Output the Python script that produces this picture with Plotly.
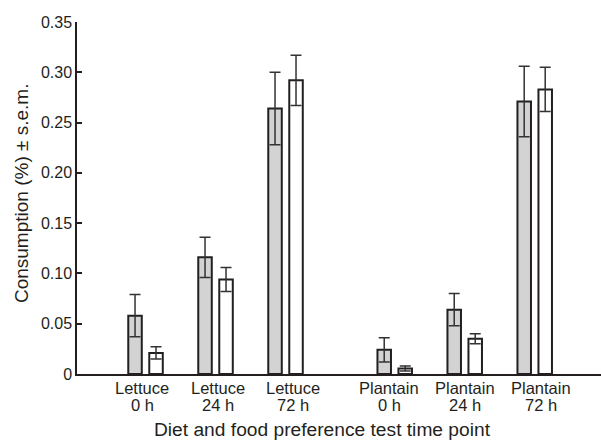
import plotly.graph_objects as go

diets = ["Lettuce", "Lettuce", "Lettuce", "Plantain", "Plantain", "Plantain"]
times = ["0 h", "24 h", "72 h", "0 h", "24 h", "72 h"]
grey_values = [0.058, 0.116, 0.264, 0.024, 0.064, 0.271]
grey_err = [0.021, 0.020, 0.036, 0.012, 0.016, 0.035]
white_values = [0.021, 0.094, 0.292, 0.0055, 0.035, 0.283]
white_err = [0.006, 0.012, 0.025, 0.0025, 0.005, 0.022]
y_ticks = [0, 0.05, 0.10, 0.15, 0.20, 0.25, 0.30, 0.35]
y_ticktext = ["0", "0.05", "0.10", "0.15", "0.20", "0.25", "0.30", "0.35"]

# group positions: two clusters of three, with a wider gap between diets
centers = [0, 1, 2, 3.56, 4.56, 5.56]
label_pos = [-0.05, 1.03, 2.10, 3.48, 4.56, 5.65]
offset = 0.15
bw = 0.193

dark = "#231f20"
FAM = "Liberation Sans, Arial, Helvetica, sans-serif"
font = dict(family=FAM, size=16, color="#231f20")

fig = go.Figure()
fig.add_trace(go.Bar(
    x=[c - offset for c in centers], y=grey_values, width=bw,
    marker=dict(color="#d3d3d3", line=dict(color=dark, width=2)),
    error_y=dict(type="data", array=grey_err, symmetric=True,
                 color="#333333", thickness=1.5, width=5.5),
    showlegend=False))
fig.add_trace(go.Bar(
    x=[c + offset for c in centers], y=white_values, width=bw,
    marker=dict(color="white", line=dict(color=dark, width=2)),
    error_y=dict(type="data", array=white_err, symmetric=True,
                 color="#333333", thickness=1.5, width=5.5),
    showlegend=False))

plot_h = 442 - 22 - 68
annotations = []
for xp, d, t in zip(label_pos, diets, times):
    annotations.append(dict(x=xp, y=(374 - 387.5) / plot_h, xref="x", yref="paper",
                            text=d, showarrow=False, xanchor="center", yanchor="middle",
                            font=dict(family=FAM, size=16.5, color=dark)))
    annotations.append(dict(x=xp, y=(374 - 404.8) / plot_h, xref="x", yref="paper",
                            text=t, showarrow=False, xanchor="center", yanchor="middle",
                            font=dict(family=FAM, size=16.5, color=dark)))
annotations.append(dict(x=(322.5 - 77) / 524, y=-0.159, xref="paper", yref="paper",
                        text="Diet and food preference test time point",
                        showarrow=False, xanchor="center", yanchor="middle",
                        font=dict(family=FAM, size=19.2, color=dark)))
annotations.append(dict(x=(21 - 77) / 524, y=0.514, xref="paper", yref="paper",
                        text="Consumption (%) ± s.e.m.", textangle=-90,
                        showarrow=False, xanchor="center", yanchor="middle",
                        font=dict(family=FAM, size=19, color=dark)))

fig.update_layout(
    width=601, height=442,
    margin=dict(l=77, r=0, t=22, b=68, autoexpand=False),
    paper_bgcolor="white", plot_bgcolor="white",
    font=font, barmode="overlay",
    annotations=annotations,
    xaxis=dict(range=[-0.979, 6.507], showticklabels=False,
               showgrid=False, zeroline=False, showline=True, linecolor=dark,
               linewidth=1.5, ticks=""),
    yaxis=dict(range=[0, 0.35], tickvals=y_ticks, ticktext=y_ticktext,
               showgrid=False, zeroline=False, showline=True, linecolor=dark,
               linewidth=1.5, ticks="inside", ticklen=5, tickcolor=dark,
               tickwidth=1.5, tickfont=dict(size=16), automargin=False),
)

fig.write_html("out.html", config={"displayModeBar": False},
               post_script="document.body.style.margin='0';")
